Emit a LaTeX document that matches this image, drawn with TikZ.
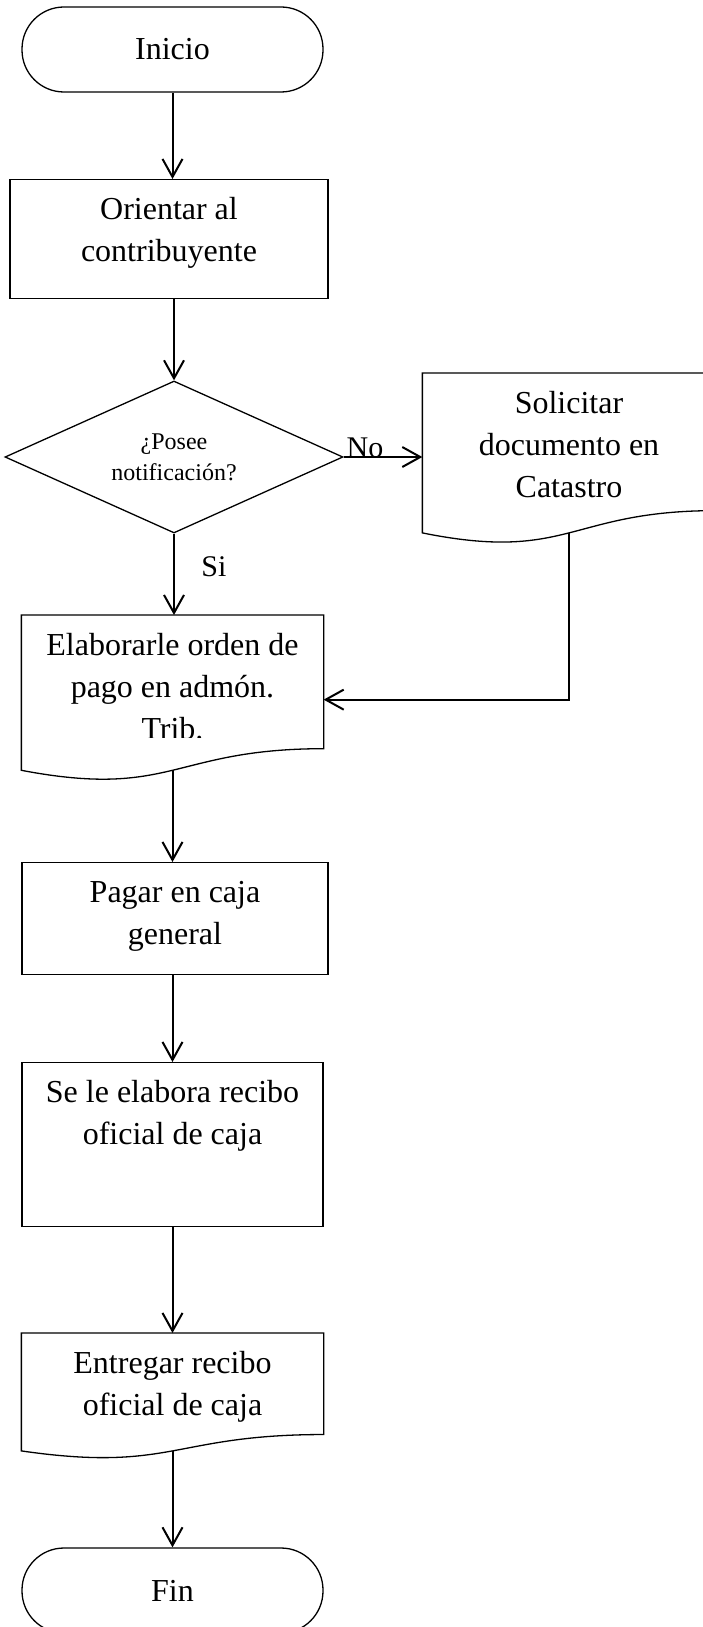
\documentclass[tikz,border=0pt]{standalone}
\usepackage{fontspec}
\setmainfont{Liberation Serif}
\usetikzlibrary{positioning, arrows.meta, shapes.geometric}

\newcommand{\docline}[2]{%
  \draw[shapeline] (#1.south west) -- (#1.north west) -- (#1.north east)
    -- ([yshift={0.131*#2}]#1.south east)
    .. controls ([yshift={0.131*#2}]#1.south) and ([yshift={-0.1745*#2}]#1.south) .. (#1.south west) -- cycle;}

\begin{document}
\begin{tikzpicture}[x=1pt, y=-1pt, ->, >={Straight Barb[length=18pt,width=20pt]}, line width=2pt,
  shapeline/.style={-, line width=1.3pt},
  procbox/.style={shapeline, draw, font=\fontsize{32}{42}\selectfont, align=flush center, inner xsep=0pt, inner ysep=16pt, text height=24pt, anchor=north},
  docbox/.style={procbox, draw=none},
  termbox/.style={shapeline, draw, rounded corners=42pt, minimum width=301pt, minimum height=85pt, font=\fontsize{32}{42}\selectfont},
  decision/.style={shapeline, draw, diamond, aspect=2.22, minimum width=338pt, minimum height=152pt, inner sep=0pt, align=center, font=\fontsize{24}{31}\selectfont},
  branch/.style={font=\fontsize{30}{36}\selectfont, anchor=base}]

    \useasboundingbox (0,0) rectangle (702,1627);

    \node[termbox] (inicio) at (172.5,49.5) {Inicio};
    \node[procbox, text width=318pt, text depth=63pt] (orientar) at (169,179) {Orientar al\\contribuyente};
    \node[decision] (posee) at (174,457) {¿Posee\\notificación?};
    \node[docbox, text width=292pt, text depth=102.6pt] (solicitar) at (569,373) {Solicitar\\documento en\\Catastro};
    \begin{scope}
      \clip (0,600) rectangle (702,737);
      \node[docbox, text width=301pt, text depth=98pt] (elaborar) at (172.5,615) {Elaborarle orden de\\pago en admón.\\Trib.};
    \end{scope}
    \node[procbox, text width=306pt, text depth=56pt] (pagar) at (175,862) {Pagar en caja\\general};
    \node[procbox, text width=301pt, text depth=108pt] (recibo) at (172.5,1062) {Se le elabora recibo\\oficial de caja};
    \node[docbox, text width=301pt, text depth=60.6pt] (entregar) at (172.5,1333) {Entregar recibo\\oficial de caja};
    \node[termbox] (fin) at (172.5,1590.5) {Fin};

    \docline{solicitar}{170}
    \docline{elaborar}{165}
    \docline{entregar}{125}

    \node[branch] (no) at (365,457) {No};
    \node[branch] (si) at (214,576) {Si};

    \draw[->] (inicio) -- (inicio |- orientar.north);
    \draw[->] (posee |- orientar.south) -- (posee.north);
    \draw[->] (posee.east) -- (posee.east -| solicitar.west);
    \draw[->] (posee.south) -- (posee.south |- elaborar.north);
    \draw[->] (solicitar.south) |- ([yshift=-7pt]elaborar.east);
    \draw[->] (elaborar.south) -- (elaborar.south |- pagar.north);
    \draw[->] (recibo |- pagar.south) -- (recibo.north);
    \draw[->] (recibo.south) -- (recibo.south |- entregar.north);
    \draw[->] (entregar.south) -- (entregar.south |- fin.north);

\end{tikzpicture}
\end{document}
